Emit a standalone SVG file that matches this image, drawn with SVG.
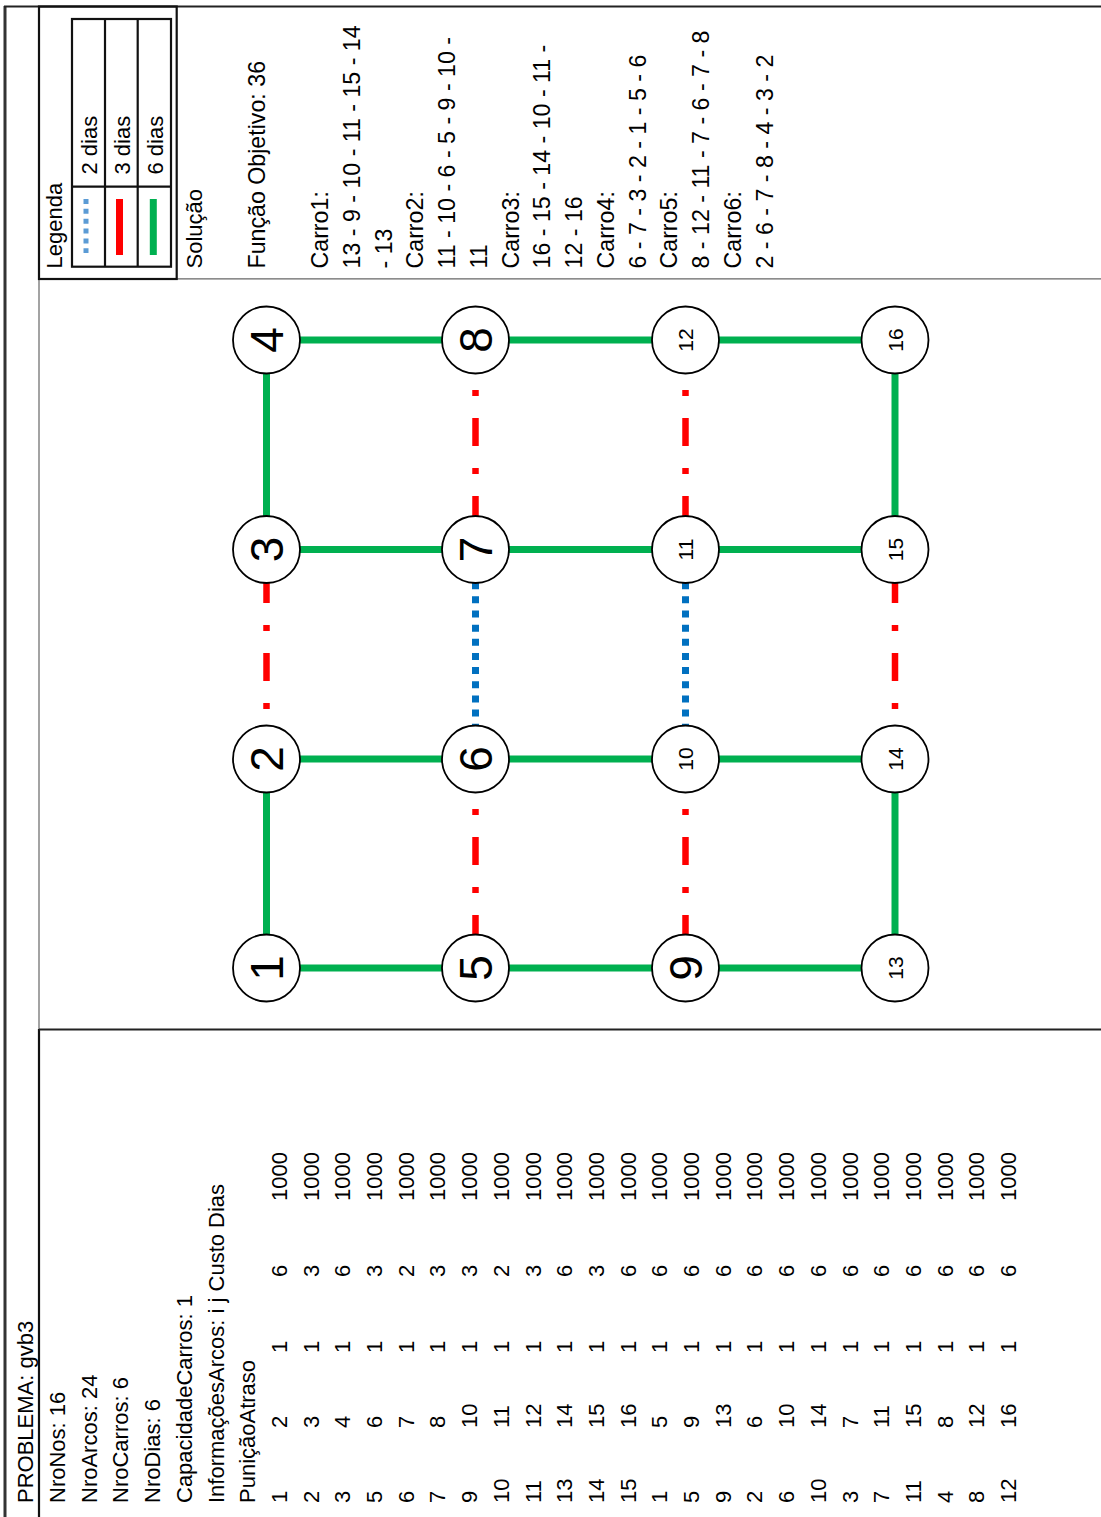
<svg xmlns="http://www.w3.org/2000/svg" width="1101" height="1517" viewBox="0 0 1101 1517">
<style>
.t{font-family:"Liberation Sans",Arial,sans-serif;fill:#000;font-size:22px}
.s{font-size:23.2px}
.big{font-size:46px;text-anchor:middle}
.sm{font-size:21px;text-anchor:middle}
.node{fill:#fff;stroke:#000;stroke-width:1.8}
.g6{stroke:#00B050;stroke-width:7;fill:none}
.r3{stroke:#FF0000;stroke-width:6.5;stroke-dasharray:28 22 6 22;fill:none}
.b2{stroke:#0070C0;stroke-width:7;stroke-dasharray:7 7.15;fill:none}
.thick{stroke:#111;stroke-width:2.2;fill:none}
.thin{stroke:#666;stroke-width:1.2;fill:none}
</style>
<rect width="1101" height="1517" fill="#fff"/>
<g id="frame">
<line x1="5" y1="6" x2="5" y2="1517" stroke="#333" stroke-width="3"/>
<line x1="4" y1="6.5" x2="1101" y2="6.5" stroke="#222" stroke-width="2"/>
<line class="thin" x1="39" y1="279" x2="39" y2="1029"/>
<line class="thick" x1="39" y1="1029" x2="39" y2="1517"/>
<line x1="39" y1="1029.5" x2="1101" y2="1029.5" stroke="#222" stroke-width="2"/>
<line class="thin" x1="177" y1="278.8" x2="1101" y2="278.8"/>
<rect class="thick" x="39" y="6.5" width="137.7" height="272.5"/>
</g>
<g id="legend">
<rect class="thick" x="72" y="19" width="99" height="247.7"/>
<line class="thick" x1="105" y1="19" x2="105" y2="266.7"/>
<line class="thick" x1="137.7" y1="19" x2="137.7" y2="266.7"/>
<line class="thick" x1="72" y1="186.7" x2="171" y2="186.7"/>
<line x1="86" y1="199" x2="86" y2="253" stroke="#5B9BD5" stroke-width="5" stroke-dasharray="5 4.85"/>
<line x1="119.5" y1="199" x2="119.5" y2="255" stroke="#FF0000" stroke-width="7"/>
<line x1="153.3" y1="199" x2="153.3" y2="255" stroke="#00B050" stroke-width="7"/>
</g>
<g id="connectors">
<line class="g6" x1="266.5" y1="340" x2="475.5" y2="340"/>
<line class="g6" x1="475.5" y1="340" x2="685.5" y2="340"/>
<line class="g6" x1="685.5" y1="340" x2="895" y2="340"/>
<line class="g6" x1="266.5" y1="549.5" x2="475.5" y2="549.5"/>
<line class="g6" x1="475.5" y1="549.5" x2="685.5" y2="549.5"/>
<line class="g6" x1="685.5" y1="549.5" x2="895" y2="549.5"/>
<line class="g6" x1="266.5" y1="759" x2="475.5" y2="759"/>
<line class="g6" x1="475.5" y1="759" x2="685.5" y2="759"/>
<line class="g6" x1="685.5" y1="759" x2="895" y2="759"/>
<line class="g6" x1="266.5" y1="968" x2="475.5" y2="968"/>
<line class="g6" x1="475.5" y1="968" x2="685.5" y2="968"/>
<line class="g6" x1="685.5" y1="968" x2="895" y2="968"/>
<line class="g6" x1="266.5" y1="968" x2="266.5" y2="759"/>
<line class="g6" x1="266.5" y1="549.5" x2="266.5" y2="340"/>
<line class="g6" x1="895" y1="968" x2="895" y2="759"/>
<line class="g6" x1="895" y1="549.5" x2="895" y2="340"/>
<line class="r3" x1="266.5" y1="759" x2="266.5" y2="549.5"/>
<line class="r3" x1="895" y1="759" x2="895" y2="549.5"/>
<line class="r3" x1="475.5" y1="759" x2="475.5" y2="968"/>
<line class="r3" x1="475.5" y1="340" x2="475.5" y2="549.5"/>
<line class="r3" x1="685.5" y1="759" x2="685.5" y2="968"/>
<line class="r3" x1="685.5" y1="340" x2="685.5" y2="549.5"/>
<line class="b2" x1="475.5" y1="759" x2="475.5" y2="549.5"/>
<line class="b2" x1="685.5" y1="759" x2="685.5" y2="549.5"/>
</g>
<g id="node-1"><circle class="node" cx="266.5" cy="968" r="33.5"/><text class="t big" x="266.5" y="984.5" transform="rotate(-90 266.5 968)">1</text></g>
<g id="node-2"><circle class="node" cx="266.5" cy="759" r="33.5"/><text class="t big" x="266.5" y="775.5" transform="rotate(-90 266.5 759)">2</text></g>
<g id="node-3"><circle class="node" cx="266.5" cy="549.5" r="33.5"/><text class="t big" x="266.5" y="566" transform="rotate(-90 266.5 549.5)">3</text></g>
<g id="node-4"><circle class="node" cx="266.5" cy="340" r="33.5"/><text class="t big" x="266.5" y="356.5" transform="rotate(-90 266.5 340)">4</text></g>
<g id="node-5"><circle class="node" cx="475.5" cy="968" r="33.5"/><text class="t big" x="475.5" y="984.5" transform="rotate(-90 475.5 968)">5</text></g>
<g id="node-6"><circle class="node" cx="475.5" cy="759" r="33.5"/><text class="t big" x="475.5" y="775.5" transform="rotate(-90 475.5 759)">6</text></g>
<g id="node-7"><circle class="node" cx="475.5" cy="549.5" r="33.5"/><text class="t big" x="475.5" y="566" transform="rotate(-90 475.5 549.5)">7</text></g>
<g id="node-8"><circle class="node" cx="475.5" cy="340" r="33.5"/><text class="t big" x="475.5" y="356.5" transform="rotate(-90 475.5 340)">8</text></g>
<g id="node-9"><circle class="node" cx="685.5" cy="968" r="33.5"/><text class="t big" x="685.5" y="984.5" transform="rotate(-90 685.5 968)">9</text></g>
<g id="node-10"><circle class="node" cx="685.5" cy="759" r="33.5"/><text class="t sm" x="685.5" y="766.5" transform="rotate(-90 685.5 759)">10</text></g>
<g id="node-11"><circle class="node" cx="685.5" cy="549.5" r="33.5"/><text class="t sm" x="685.5" y="557" transform="rotate(-90 685.5 549.5)">11</text></g>
<g id="node-12"><circle class="node" cx="685.5" cy="340" r="33.5"/><text class="t sm" x="685.5" y="347.5" transform="rotate(-90 685.5 340)">12</text></g>
<g id="node-13"><circle class="node" cx="895" cy="968" r="33.5"/><text class="t sm" x="895" y="975.5" transform="rotate(-90 895 968)">13</text></g>
<g id="node-14"><circle class="node" cx="895" cy="759" r="33.5"/><text class="t sm" x="895" y="766.5" transform="rotate(-90 895 759)">14</text></g>
<g id="node-15"><circle class="node" cx="895" cy="549.5" r="33.5"/><text class="t sm" x="895" y="557" transform="rotate(-90 895 549.5)">15</text></g>
<g id="node-16"><circle class="node" cx="895" cy="340" r="33.5"/><text class="t sm" x="895" y="347.5" transform="rotate(-90 895 340)">16</text></g>
<g id="texts" transform="rotate(-90)">
<text class="t" x="-268.5" y="62">Legenda</text>
<text class="t" x="-174.5" y="97">2 dias</text>
<text class="t" x="-174.5" y="129.5">3 dias</text>
<text class="t" x="-174.5" y="163">6 dias</text>
<text class="t" x="-268.5" y="201.5">Solução</text>
<text class="t s" x="-268.5" y="264.5">Função Objetivo: 36</text>
<text class="t s" x="-268.5" y="328">Carro1:</text>
<text class="t s" x="-268.5" y="359.8">13 - 9 - 10 - 11 - 15 - 14</text>
<text class="t s" x="-268.5" y="391.5">- 13</text>
<text class="t s" x="-268.5" y="423.3">Carro2:</text>
<text class="t s" x="-268.5" y="455">11 - 10 - 6 - 5 - 9 - 10 -</text>
<text class="t s" x="-268.5" y="486.8">11</text>
<text class="t s" x="-268.5" y="518.5">Carro3:</text>
<text class="t s" x="-268.5" y="550.3">16 - 15 - 14 - 10 - 11 -</text>
<text class="t s" x="-268.5" y="582">12 - 16</text>
<text class="t s" x="-268.5" y="613.8">Carro4:</text>
<text class="t s" x="-268.5" y="645.5">6 - 7 - 3 - 2 - 1 - 5 - 6</text>
<text class="t s" x="-268.5" y="677.3">Carro5:</text>
<text class="t s" x="-268.5" y="709">8 - 12 - 11 - 7 - 6 - 7 - 8</text>
<text class="t s" x="-268.5" y="740.8">Carro6:</text>
<text class="t s" x="-268.5" y="772.5">2 - 6 - 7 - 8 - 4 - 3 - 2</text>
<text class="t" x="-1503" y="33.3">PROBLEMA: gvb3</text>
<text class="t" x="-1503" y="65">NroNos: 16</text>
<text class="t" x="-1503" y="96.7">NroArcos: 24</text>
<text class="t" x="-1503" y="128.4">NroCarros: 6</text>
<text class="t" x="-1503" y="160.1">NroDias: 6</text>
<text class="t" x="-1503" y="191.8">CapacidadeCarros: 1</text>
<text class="t" x="-1503" y="223.5">InformaçõesArcos: i j Custo Dias</text>
<text class="t" x="-1503" y="255.2">PuniçãoAtraso</text>
</g>
<g id="table" transform="rotate(-90)" class="t">
<g transform="translate(0 286.9)"><text x="-1503">1</text><text x="-1428">2</text><text x="-1353">1</text><text x="-1277">6</text><text x="-1201">1000</text></g>
<g transform="translate(0 318.6)"><text x="-1503">2</text><text x="-1428">3</text><text x="-1353">1</text><text x="-1277">3</text><text x="-1201">1000</text></g>
<g transform="translate(0 350.3)"><text x="-1503">3</text><text x="-1428">4</text><text x="-1353">1</text><text x="-1277">6</text><text x="-1201">1000</text></g>
<g transform="translate(0 382)"><text x="-1503">5</text><text x="-1428">6</text><text x="-1353">1</text><text x="-1277">3</text><text x="-1201">1000</text></g>
<g transform="translate(0 413.7)"><text x="-1503">6</text><text x="-1428">7</text><text x="-1353">1</text><text x="-1277">2</text><text x="-1201">1000</text></g>
<g transform="translate(0 445.4)"><text x="-1503">7</text><text x="-1428">8</text><text x="-1353">1</text><text x="-1277">3</text><text x="-1201">1000</text></g>
<g transform="translate(0 477.1)"><text x="-1503">9</text><text x="-1428">10</text><text x="-1353">1</text><text x="-1277">3</text><text x="-1201">1000</text></g>
<g transform="translate(0 508.8)"><text x="-1503">10</text><text x="-1428">11</text><text x="-1353">1</text><text x="-1277">2</text><text x="-1201">1000</text></g>
<g transform="translate(0 540.5)"><text x="-1503">11</text><text x="-1428">12</text><text x="-1353">1</text><text x="-1277">3</text><text x="-1201">1000</text></g>
<g transform="translate(0 572.2)"><text x="-1503">13</text><text x="-1428">14</text><text x="-1353">1</text><text x="-1277">6</text><text x="-1201">1000</text></g>
<g transform="translate(0 603.9)"><text x="-1503">14</text><text x="-1428">15</text><text x="-1353">1</text><text x="-1277">3</text><text x="-1201">1000</text></g>
<g transform="translate(0 635.6)"><text x="-1503">15</text><text x="-1428">16</text><text x="-1353">1</text><text x="-1277">6</text><text x="-1201">1000</text></g>
<g transform="translate(0 667.3)"><text x="-1503">1</text><text x="-1428">5</text><text x="-1353">1</text><text x="-1277">6</text><text x="-1201">1000</text></g>
<g transform="translate(0 699)"><text x="-1503">5</text><text x="-1428">9</text><text x="-1353">1</text><text x="-1277">6</text><text x="-1201">1000</text></g>
<g transform="translate(0 730.7)"><text x="-1503">9</text><text x="-1428">13</text><text x="-1353">1</text><text x="-1277">6</text><text x="-1201">1000</text></g>
<g transform="translate(0 762.4)"><text x="-1503">2</text><text x="-1428">6</text><text x="-1353">1</text><text x="-1277">6</text><text x="-1201">1000</text></g>
<g transform="translate(0 794.1)"><text x="-1503">6</text><text x="-1428">10</text><text x="-1353">1</text><text x="-1277">6</text><text x="-1201">1000</text></g>
<g transform="translate(0 825.8)"><text x="-1503">10</text><text x="-1428">14</text><text x="-1353">1</text><text x="-1277">6</text><text x="-1201">1000</text></g>
<g transform="translate(0 857.5)"><text x="-1503">3</text><text x="-1428">7</text><text x="-1353">1</text><text x="-1277">6</text><text x="-1201">1000</text></g>
<g transform="translate(0 889.2)"><text x="-1503">7</text><text x="-1428">11</text><text x="-1353">1</text><text x="-1277">6</text><text x="-1201">1000</text></g>
<g transform="translate(0 920.9)"><text x="-1503">11</text><text x="-1428">15</text><text x="-1353">1</text><text x="-1277">6</text><text x="-1201">1000</text></g>
<g transform="translate(0 952.6)"><text x="-1503">4</text><text x="-1428">8</text><text x="-1353">1</text><text x="-1277">6</text><text x="-1201">1000</text></g>
<g transform="translate(0 984.3)"><text x="-1503">8</text><text x="-1428">12</text><text x="-1353">1</text><text x="-1277">6</text><text x="-1201">1000</text></g>
<g transform="translate(0 1016)"><text x="-1503">12</text><text x="-1428">16</text><text x="-1353">1</text><text x="-1277">6</text><text x="-1201">1000</text></g>
</g>
</svg>
